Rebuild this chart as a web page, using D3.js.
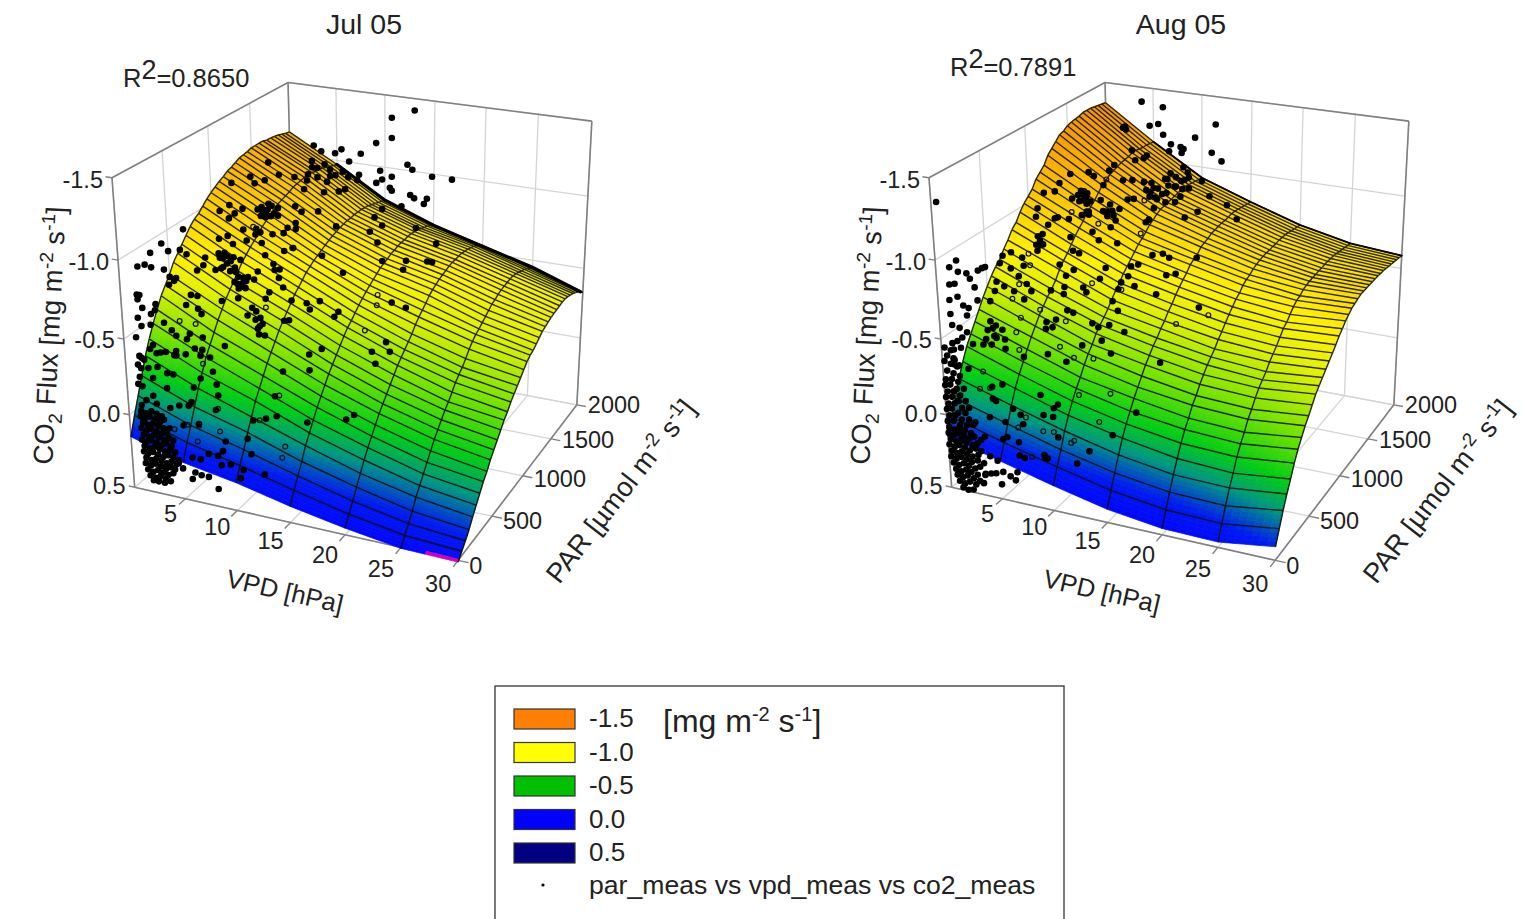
<!DOCTYPE html>
<html><head><meta charset="utf-8">
<script src="https://cdnjs.cloudflare.com/ajax/libs/d3/7.8.5/d3.min.js"></script>
<style>html,body{margin:0;padding:0;background:#fff;overflow:hidden}text{font-family:"Liberation Sans",Arial,sans-serif;fill:#222}</style>
</head><body><svg id="c" width="1522" height="919" viewBox="0 0 1522 919"></svg>
<script>
// ---- axes ----
const vpdTicks=[5,10,15,20,25,30], parTicks=[0,500,1000,1500,2000], co2Ticks=[-1.5,-1.0,-0.5,0.0,0.5];
const co2TickLabels=["-1.5","-1.0","-0.5","0.0","0.5"];
// ---- fitted surface: columns are VPD, rows are PAR ----
const vpdGrid=[0,5,10,15,20,25,30];
const parGrid=[0,50,100,150,200,250,300,350,400,450,500,550,600,650,700,750,800,850,900,950,1000,1050,1100,1150,1200,1250,1300,1350,1400,1450,1500,1550,1600,1650,1700,1750,1800,1850,1900,1950,2000];
const julSurface=[
[.15,.25,.31,.39,.455,.507,.512],[.03,.14,.22,.31,.39,.45,.47],[-.08,.05,.14,.24,.33,.40,.43],[-.19,-.05,.05,.17,.265,.345,.386],
[-.30,-.15,-.03,.09,.20,.28,.33],[-.39,-.23,-.11,.03,.137,.23,.28],[-.47,-.31,-.17,-.03,.08,.18,.23],[-.54,-.37,-.23,-.09,.03,.13,.18],
[-.61,-.43,-.29,-.14,-.02,.08,.14],[-.66,-.49,-.34,-.19,-.07,.03,.09],[-.71,-.54,-.39,-.24,-.11,-.01,.05],[-.77,-.59,-.44,-.28,-.15,-.05,.01],
[-.81,-.63,-.48,-.32,-.19,-.09,-.03],[-.85,-.67,-.52,-.36,-.23,-.12,-.07],[-.89,-.71,-.555,-.40,-.27,-.16,-.10],[-.93,-.75,-.595,-.435,-.30,-.20,-.14],
[-.96,-.78,-.62,-.46,-.33,-.23,-.17],[-.98,-.81,-.65,-.49,-.36,-.255,-.20],[-1.01,-.835,-.68,-.52,-.39,-.29,-.23],[-1.04,-.86,-.70,-.545,-.43,-.33,-.26],
[-1.065,-.89,-.72,-.57,-.46,-.36,-.29],[-1.085,-.91,-.735,-.59,-.485,-.385,-.31],[-1.105,-.93,-.75,-.61,-.51,-.40,-.32],[-1.12,-.95,-.765,-.63,-.54,-.42,-.34],
[-1.14,-.97,-.78,-.65,-.56,-.44,-.36],[-1.15,-.98,-.79,-.66,-.575,-.46,-.38],[-1.165,-.99,-.80,-.67,-.59,-.48,-.39],[-1.18,-1.0,-.81,-.685,-.60,-.49,-.40],
[-1.185,-1.015,-.815,-.69,-.61,-.505,-.41],[-1.19,-1.02,-.82,-.70,-.62,-.515,-.415],[-1.20,-1.025,-.82,-.705,-.625,-.52,-.42],[-1.20,-1.03,-.825,-.705,-.625,-.525,-.425],
[-1.20,-1.03,-.825,-.71,-.63,-.53,-.43],[-1.20,-1.03,-.825,-.71,-.63,-.53,-.43],[-1.19,-1.02,-.82,-.705,-.625,-.525,-.425],[-1.19,-1.02,-.815,-.70,-.62,-.515,-.415],
[-1.185,-1.01,-.805,-.69,-.61,-.505,-.405],[-1.18,-1.0,-.795,-.68,-.60,-.495,-.39],[-1.17,-.99,-.785,-.67,-.585,-.48,-.375],[-1.16,-.98,-.775,-.655,-.57,-.465,-.355],
[-1.155,-.97,-.765,-.64,-.55,-.45,-.33]];
const augSurface=[
[.15,.24,.33,.41,.457,.464,.41],[.04,.14,.23,.31,.36,.37,.32],[-.06,.04,.14,.22,.27,.28,.23],[-.17,-.06,.04,.125,.18,.19,.15],
[-.26,-.15,-.04,.04,.10,.12,.08],[-.34,-.22,-.11,-.03,.025,.04,.004],[-.40,-.28,-.17,-.09,-.04,-.02,-.06],[-.46,-.34,-.22,-.15,-.09,-.07,-.11],
[-.52,-.40,-.28,-.20,-.15,-.13,-.16],[-.58,-.45,-.33,-.25,-.19,-.17,-.20],[-.63,-.50,-.37,-.30,-.24,-.22,-.245],[-.68,-.54,-.42,-.34,-.28,-.26,-.29],
[-.72,-.58,-.455,-.38,-.32,-.29,-.32],[-.75,-.61,-.485,-.41,-.35,-.32,-.35],[-.80,-.65,-.52,-.45,-.38,-.36,-.38],[-.84,-.70,-.56,-.48,-.42,-.39,-.41],
[-.89,-.74,-.60,-.52,-.45,-.42,-.44],[-.92,-.77,-.63,-.55,-.485,-.455,-.47],[-.97,-.81,-.67,-.59,-.52,-.49,-.505],[-1.01,-.85,-.70,-.62,-.55,-.51,-.53],
[-1.04,-.88,-.73,-.65,-.58,-.54,-.56],[-1.07,-.91,-.76,-.675,-.60,-.57,-.58],[-1.12,-.95,-.79,-.71,-.63,-.59,-.60],[-1.15,-.97,-.81,-.725,-.65,-.60,-.61],
[-1.18,-.997,-.835,-.74,-.66,-.62,-.62],[-1.23,-1.03,-.865,-.77,-.68,-.63,-.63],[-1.26,-1.06,-.88,-.78,-.69,-.635,-.63],[-1.29,-1.08,-.90,-.79,-.70,-.64,-.63],
[-1.32,-1.10,-.915,-.805,-.705,-.64,-.63],[-1.33,-1.11,-.92,-.81,-.71,-.645,-.63],[-1.35,-1.12,-.925,-.815,-.71,-.645,-.63],[-1.36,-1.13,-.93,-.82,-.715,-.65,-.63],
[-1.365,-1.135,-.935,-.82,-.715,-.65,-.625],[-1.37,-1.14,-.94,-.825,-.72,-.65,-.625],[-1.38,-1.15,-.95,-.83,-.72,-.65,-.62],[-1.38,-1.15,-.95,-.83,-.72,-.645,-.615],
[-1.38,-1.145,-.945,-.825,-.715,-.64,-.61],[-1.375,-1.14,-.94,-.82,-.71,-.635,-.605],[-1.37,-1.14,-.935,-.815,-.705,-.63,-.60],[-1.365,-1.135,-.93,-.81,-.70,-.625,-.595],
[-1.36,-1.13,-.925,-.805,-.695,-.62,-.59]];
// ---- measurements as [VPD, CO2 flux]; PAR cannot be read from the flat picture, so each list has one estimated PAR ----
const julPar100=[[5.3,-1.21],[3.2,-1.10],[4.9,-1.08],[3.8,-1.06],[2.1,-1.03],[5.5,-1.06],[.8,-.93],[1.5,-.95],[2.1,-.94],[3.3,-.94],[3.8,-.90],[4.2,-.88],[4.4,-.90],[3.7,-.85],[.55,-.75],[.8,-.75],[.6,-.72],[1,-.67],[2.3,-.71],[2.2,-.67],[1.8,-.64],[.5,-.60],[1.7,-.57],[.8,-.55],[.2,-.47],[1.8,-.44],[.4,-.35],[.85,-.33],
[7.2,-1.06],[7,-1.01],[6.4,-.97],[6.3,-.81],[5.7,-.81],[5.2,-.74],[6.3,-.73],[6.6,-.70],[3,-.60],[3.7,-.56],[4.1,-.53],[5.1,-.52],[5.4,-.56],[6.6,-.55],[4.9,-.42],[4,-.40],[6.3,-.43],[2.5,-.40],
[.6,-.34],[.2,-.29],[.5,-.27],[.3,-.21],[.1,-.16],[.5,-.15],[1.6,-.22],[2.1,-.30],[1.5,-.41],[1.2,-.28],[2.1,-.39],[3,-.41],[3.8,-.40],[4,-.43],[3,-.27],[3.6,-.27],[2.9,-.17],[1.5,-.10],[.8,-.06],[.3,-.02],[1.8,-.05],
[16.3,-.57],[13.9,-.43],[16.3,-.47],[21.8,-.66],[22.1,-.59],[19.5,-.20],[20.2,-.24],[16,-.13],[13.2,-.13],[13.1,-.26],[11,-.07],[12.2,-.10],[10.4,.06],[10.7,.16],[8.3,.11],[7.5,-.09],[7.8,-.19],[7.7,-.26],[7.4,-.34],[6.2,-.28],[5.5,-.21],[7.2,-.43],[6.5,-.47],[5.8,-.47],[5.2,-.11],[4.9,-.08],[4,-.07],[3.1,-.04],[2.1,.05],[4.3,.06],[5.8,.03],[8,.18],[7.5,.22],[6.6,.22],[5.8,.27],[5,.27],[7.8,.28],[8.7,.26],[9.9,.28],[11.9,.28],[9.6,.34],[5.8,.38],[6.5,.38],[4.9,.42],[7.4,.45],[4,.36],[3.6,.33],[5.2,.37],
[.2,.02],[.7,.03],[1.2,.01],[1.7,.02],[2.2,.03],[.1,.06],[.5,.07],[1,.05],[1.5,.06],[2,.07],[2.4,.05],[.3,.10],[.8,.11],[1.3,.09],[1.8,.10],[2.3,.11],[2.9,.10],[.1,.14],[.6,.15],[1.1,.13],[1.6,.14],[2.1,.15],[2.6,.14],[.3,.18],[.8,.19],[1.3,.17],[1.8,.18],[2.3,.19],[2.8,.17],[3.2,.18],[.1,.22],[.5,.23],[1,.21],[1.5,.22],[2,.23],[2.5,.21],[3,.22],[.3,.26],[.8,.27],[1.3,.25],[1.8,.26],[2.3,.27],[2.8,.25],[3.3,.26],[.2,.30],[.6,.31],[1.1,.29],[1.6,.30],[2.1,.31],[2.6,.29],[3.1,.30],[3.6,.31],[.4,.34],[.9,.35],[1.4,.33],[1.9,.34],[2.4,.35],[2.9,.33],[3.4,.34],[.3,.38],[.8,.39],[1.3,.37],[1.8,.38],[2.3,.39],[2.8,.37],[3.2,.38],[.5,.42],[1,.43],[1.5,.41],[2,.42],[2.5,.43],[3,.41],[.7,.46],[1.2,.47],[1.7,.45],[2.2,.46],[2.7,.47],[1,.49],[1.5,.49],[2.1,.49]];
const julPar1000=[[5.8,-1.32],[4,-1.21],[5.4,-1.20],[6.8,-1.25],[2.1,-1.15],[4.4,-1.17],[8.3,-1.25],[9.5,-1.24],[9.2,-1.18],[10,-1.33],[10.2,-1.47],[10.9,-1.44],[12.8,-1.47],[12.2,-1.44],[11.7,-1.29],[13.1,-1.22],[13.5,-1.40],[11.1,-1.18],[8.3,-1.06],[8.9,-1.03],[5.7,-1.05],[6,-1.04],[5.4,-.99],[5.1,-.98],[6.6,-1.03],[6.6,-.98],[1.8,-1],[3.1,-.99],[.8,-.95],[2.3,-.95],[1.7,-.91],[10.5,-1.05],[12.2,-.97],[8.3,-.95],[8.3,-.91],[7.1,-.87],[7.5,-.91],[4.4,-.87],[4.8,-.85],[4.3,-.83],[3.1,-.85],[3.4,-.78],[4.9,-.78],[6,-.85],[.6,-.76],[1.5,-.79],[2,-.74],
[.6,-.63],[.9,-.63],[1.4,-.65],[.9,-.57],[.1,-.54],[2,-.65],[2.7,-.64],[2.4,-.52],[2.9,-.52],[2.3,-.47],[2.6,-.45],[3.2,-.50],[4,-.52],[5.2,-.70],[6,-.65],[6.1,-.61],[6.6,-.62],[6.5,-.56],[6.9,-.50],[4.4,-.58],[7.1,-.75],[8,-.78],[10.8,-.76],[12.8,-.67],[.6,-.33],[2.3,-.37],[3.2,-.26],[3.7,-.32],[4,-.24],[4.4,-.20],[4.3,-.14],[5.5,-.45],[5.1,-.40],[6.9,-.27],[7.4,-.28],[7.7,-.42],[9.2,-.42],[9.5,-.38],[10.5,-.45],[12.3,-.40],[11.9,-.36],[10.6,-.12],[.7,-.01],
[5,-1.02],[5.3,-1],[5.6,-1.01],[4.9,-.96],[5.4,-.96],[5.9,-.97],[4.6,-1],[6.2,-.99],[.5,-.66],[1.3,-.6],[1.7,-.62],[1.1,-.67],[.7,-.56],[1.6,-.55],[2.1,-.58],[2,-.48],[2.4,-.44],[2.8,-.48],[3.1,-.45],[2.2,-.55],[3.4,-.53],[4.1,-.3],[4.5,-.26],[4.2,-.18],[4.7,-.22],[4.9,-.14],[10,-1.37],[10.5,-1.33],[11.2,-1.36],[11.7,-1.33],[9.6,-1.28],[10.5,-1.27],[11.4,-1.25],[12.2,-1.3],[12.9,-1.33],[13.4,-1.3],[12.5,-1.2]];
const julPar2000=[[13,-1.42],[10.7,-1.35],[10.7,-1.21],[9.1,-1.16],[7.5,-1.07],[12.3,-1.04],[12.8,-1.01],[9.5,-.97],[10.7,-.94],[14.8,-.98],[16.8,-.98],[9.7,-.91],[9.1,-.88],[10.5,-.86],[10.7,-.84],[12.6,-.83],[13,-.81],[14.3,-.82],[14,-.78],[7.3,-.92],[7.1,-.88],[11.7,-.74],[9.7,-.70],[8.9,-.63],[9.7,-.58],[8.4,-.52],[13.2,-.60],[15.3,-.51],[9.2,-.45],[12.2,-.35],[9.7,-.32],[14.4,-.37],[14.9,-.37],[11.9,-.28],[10.7,-.02],[12.2,0],[10.1,.29],[10.5,.36]];
const julHollow100=[[6.5,-.38],[4.7,.05],[3.4,.10],[5.8,.04],[7.8,.05],[5.6,.15],[7.7,-.10],[11.6,-.08],[13.5,-.27],[13.9,.06],[13.6,.14],[4.5,-.63],[6,-.63]];
const julHollow1000=[[7.9,-.78],[5.1,-.34],[4.1,-.88]];
const julHollow2000=[[9.2,-.06],[9.1,.02],[7.8,.23]];

const augPar0=[[.5,-1.36],[.3,-.45],[.9,-.44],[.5,-.40],[1.1,-.39],[.2,-.36],[.8,-.35],[1.4,-.34],[.4,-.30],[1,-.29],[1.6,-.28],[.2,-.24],[.8,-.25],[1.4,-.24],[.1,-.20],[.6,-.21],[1.2,-.19],[1.9,-.20],[.3,-.16],[.9,-.17],[1.5,-.15],[.1,-.12],[.7,-.13],[1.3,-.11],[2,-.12],[.3,-.08],[.9,-.09],[1.6,-.07],[2.3,-.08],[.1,-.04],[.6,-.05],[1.2,-.03],[1.9,-.04],[.3,0],[.9,-.01],[1.5,.01],[2.2,0],[2.8,.01],[.1,.04],[.7,.03],[1.3,.05],[2,.04],[2.6,.03],
[.2,.08],[.7,.09],[1.2,.07],[1.7,.08],[2.3,.09],[.1,.12],[.6,.13],[1.1,.11],[1.6,.12],[2.1,.13],[2.6,.11],[.3,.16],[.8,.17],[1.3,.15],[1.8,.16],[2.4,.17],[2.9,.15],[.1,.20],[.6,.21],[1.1,.19],[1.6,.20],[2.1,.21],[2.7,.19],[3.2,.20],[.3,.24],[.8,.25],[1.3,.23],[1.8,.24],[2.3,.25],[2.9,.23],[.2,.28],[.7,.29],[1.2,.27],[1.7,.28],[2.2,.29],[2.8,.27],[3.4,.28],[.4,.32],[.9,.33],[1.4,.31],[1.9,.32],[2.5,.33],[3,.31],[.6,.36],[1.1,.37],[1.6,.35],[2.1,.36],[2.7,.37],[3.5,.35],[.7,.40],[1.2,.41],[1.7,.39],[2.3,.40],[2.9,.41],[.9,.44],[1.4,.45],[1.9,.43],[2.5,.44],[1.2,.48],[1.7,.49],[2.2,.48]];
const augPar100=[[7.2,-1.06],[7.3,-1.01],[6.2,-1.08],[5.4,-1.05],[5.1,-1],[6.1,-.98],[6.8,-.94],[7.5,-.90],[7.9,-.86],[6.9,-.43],[5.2,-.52],[5.2,-.46],[4.4,-.52],[5,-.58],[4.1,-.58],[4,-.75],[4.7,-.88],[4.5,-.82],[5.4,-.86],[6.3,-.84],[7.2,-.80],[3.9,-.62],[3.6,-.56],[4.4,-.6],[4.2,-.53],[3.4,-.5],[3.1,-.46],[3.9,-.47],
[1,-.97],[.3,-.92],[1.1,-.90],[1.9,-.90],[.2,-.81],[.7,-.82],[2.2,-.87],[3,-.93],[3.7,-.96],[3.4,-.95],[.9,-.74],[.1,-.71],[2.6,-.82],[2.8,-.74],[1.4,-.69],[1.9,-.68],[1.7,-.63],[.1,-.62],[.2,-.55],[.9,-.54],[1.1,-.48],[.6,-.45],[.2,-.39],[.1,-.43],[1.6,-.52],[2.1,-.45],[.9,-.41],[.2,-.32],[.6,-.29],[.1,-.29],[1.5,-.28],
[8.3,-.20],[5.6,-.07],[6.3,-.04],[8.5,-.07],[9.5,-.13],[9.9,-.16],[9.4,-.07],[4.8,.03],[6.5,.02],[4.9,.13],[4.5,.15],[6,.15],[2.7,.16],[2.3,.19],[3.7,-.11],[4.7,-.22],[3.7,-.19],[4,-.10],[9.8,.06],[12.7,.11],[11.5,.21],[14.9,-.03],[17.1,-.21],[6,.24],[6.5,.25],[8.4,.20],[8.5,.22],[8.7,.22],[4.3,.38],[4.1,.47],[3.6,.40],[3.1,.41],[2.5,.43],[2.3,.49],[5,.40],[5.5,.42],[5.7,.36],[3.3,.02],[3.1,.29],[3.8,.31]];
const augPar1000=[[15.1,-1.38],[15.5,-1.35],[16.8,-1.31],[17.5,-1.22],[19.1,-1.18],[20,-1.10],[15.2,-1.06],[16.4,-1.11],[14.4,-1.25],[13.7,-1.25],[13.4,-1.29],[12.7,-1.22],[13.1,-1.19],[12.3,-1.22],[12,-1.19],[14.3,-1.15],[13.4,-1.14],[12.3,-1.09],[10.4,-1.13],[9.8,-1.12],[8.1,-1.29],[8.6,-1.33],[10.3,-1.44],[11.7,-1.42],[11.4,-1.40],[10.6,-1.38],[9.4,-1.24],[10.3,-1.25],[11.4,-1.25],[6.6,-1.24],[6.1,-1.26],[5.5,-1.11],[5.8,-1.09],[5,-1.10],[4.4,-1.07],[4.3,-1.23],[2.7,-1.10],[3.2,-1.16],[1.6,-1.08],[.9,-.97],[.7,-.91],[2.6,-.92],[1.9,-.87],[4,-.93],[2.9,-.93],[5.3,-.97],[5.8,-1],[6,-.98],[7.5,-1.19],[7.2,-1.09],[8.1,-1.07],[7.8,-1.02],[8.4,-1],[9,-1.05],[11.5,-.99],[11.8,-1.01],[8.1,-.92],[6.3,-.87],[6.9,-.82],[8.7,-.82],[4.3,-.72],[4.9,-.71],[7.5,-.64],[4.1,-.81],[1.3,-.80],[1,-.75],[.7,-.68],[2.9,-.61],[4.3,-.59],[6.9,-.56],[3.5,-.54],[10,-.68],[10.7,-.70],[9.7,-.61],[9,-.56],[8.7,-.51],[8.1,-.42],[10.3,-.55],[8.6,-.36],[12.4,-.52],[12.1,-.78],[13.1,-.80],[13.7,-.78],[16.3,-.81],[13.4,-.66],[14.3,-.68],[16.5,-.48],[1.9,-.42],[3.3,-.46],[5.2,-.48],[5.5,-.45],[3.2,-.41],[3.5,-.30],[4.1,-.29],[6,-.24],[6.6,-.22],[7.7,-.25],[9.2,-.22],[6.9,-.13],[7.8,-.05],[4.9,-.07],[12.7,-.05],[1.3,.04],[3.2,.07],[1.3,-.19],[2.3,-.22],[1.9,-.16],[1.2,-.14],
[5.3,-1.13],[5.6,-1.13],[5.9,-1.12],[5.4,-1.07],[5.8,-1.05],[5.1,-1.06],[6.2,-1.07],[6,-1],[7.4,-1.02],[7.8,-.99],[8.3,-1.03],[8.6,-.97],[13.9,-1.33],[14.4,-1.31],[14.9,-1.29],[15.2,-1.3],[13.6,-1.29],[14.3,-1.25],[15,-1.24],[15.6,-1.25],[13.5,-1.2],[14.8,-1.19],[15.6,-1.32],[11.6,-1.2],[11.9,-1.16],[12.4,-1.16],[12.1,-1.25],[12.6,-1.15],[.8,-.78],[1,-.72],[1.3,-.73],[.6,-.72]];
const augPar2000=[[3.8,-1.40],[6,-1.38],[4.6,-1.24],[5.5,-1.26],[6,-1.19],[11.4,-1.31],[9.3,-1.20],[11,-1.11],[12,-1.06],[6.8,-1.13],[7.8,-1.12],[8.1,-1.11],[7.9,-1.08],[6.6,-1.08],[1.8,-1.20],[2.1,-1.19],[2,-1.21]];
const augHollow100=[[7.8,-1.09],[7.9,-1.02],[6.8,-.89],[6.1,-.79],[6.8,-.68],[6.3,-.58],[6.5,-.47],[11.9,-.25],[14.8,-.30],[13.7,-.10],[6.8,-.03],[6,.05],[8.4,.04],[9.4,.03],[11.3,.06],[11,.08],[7.2,.23],[2.5,-.16],[2.9,-.28],[3.5,-.18]];
const augHollow1000=[[.7,-.27],[7.8,-1.23],[4.3,-.98],[6.9,-.93],[11,-.91],[6.1,-.52],[9,-.51],[3.3,-.22],[2.6,-.03],[4,.03],[6,.01],[14.3,-.34],[17.4,-.44],[11.4,-1.13]];
// ---- legend ----
const legendLabels=["-1.5","-1.0","-0.5","0.0","0.5"];
const legendColors=["#ff8000","#ffff00","#00c000","#0000ff","#000080"];
const seriesLabel="par_meas vs vpd_meas vs co2_meas";

const svg=d3.select("#c");
// screen anchors of the plot box (u,v,w -> x,y, weight): the box is a perspective drawing; two corners are hidden and only loosely known
const boxCorners=[[0,0,0,135,487,1],[1,0,0,458,561,1],[1,1,0,577,404,1],[0,1,0,291,360,.25],[0,0,1,112,178,1],[1,0,1,462,221,.25],[1,1,1,592,122,1],[0,1,1,288,82,1]];
function solve(A,b){const n=b.length;const M=A.map((r,i)=>[...r,b[i]]);for(let i=0;i<n;i++){let p=i;for(let k=i+1;k<n;k++)if(Math.abs(M[k][i])>Math.abs(M[p][i]))p=k;[M[i],M[p]]=[M[p],M[i]];for(let k=i+1;k<n;k++){const f=M[k][i]/M[i][i];for(let j=i;j<=n;j++)M[k][j]-=f*M[i][j];}}const x=Array(n).fill(0);for(let i=n-1;i>=0;i--){let s=M[i][n];for(let j=i+1;j<n;j++)s-=M[i][j]*x[j];x[i]=s/M[i][i];}return x;}
const cam=(()=>{const rows=[],rhs=[];boxCorners.forEach(([u,v,w,x,y,k])=>{rows.push([1,u,v,w,0,0,0,0,-x*u,-x*v,-x*w].map(c=>c*k));rhs.push(x*k);rows.push([0,0,0,0,1,u,v,w,-y*u,-y*v,-y*w].map(c=>c*k));rhs.push(y*k);});
const n=11,AtA=d3.range(n).map(i=>d3.range(n).map(j=>d3.sum(rows,r=>r[i]*r[j]))),Atb=d3.range(n).map(i=>d3.sum(rows,(r,k)=>r[i]*rhs[k]));return solve(AtA,Atb);})();
const uS=d3.scaleLinear().domain([0,30]).range([0,1]),vS=d3.scaleLinear().domain([0,2000]).range([0,1]),wS=d3.scaleLinear().domain([0.5,-1.5]).range([0,1]);
function proj(vpd,par,co2){const u=uS(vpd),v=vS(par),w=wS(co2),d=1+cam[8]*u+cam[9]*v+cam[10]*w;return[(cam[0]+cam[1]*u+cam[2]*v+cam[3]*w)/d,(cam[4]+cam[5]*u+cam[6]*v+cam[7]*w)/d];}
// surface colours follow height, with a slow drift along VPD as in the source rendering
const colour=d3.scaleLinear().domain([-1.6,-1.35,-1.15,-.8,-.65,-.4,-.2,-.05,.12,.3]).range(["#e06e00","#f59600","#fab400","#fff000","#e1f000","#6ee100","#00cd14","#009682","#0019f0","#0000ff"]).clamp(true);
const surfaceColour=(z,vpd)=>z>0.503?"#d000c0":colour(z-0.01*vpd);
const line=d3.line();
const GRID="#d4d4d4",FRAME="#808080";

function panel(dx,title,rLabel,rx,ry,surface,groups,hollow,ridgeWidth){
 const g=svg.append("g").attr("transform",`translate(${dx},0)`);
 const seg=(a,b,col,w)=>g.append("path").attr("d",line([proj(...a),proj(...b)])).attr("fill","none").attr("stroke",col).attr("stroke-width",w);
 // walls and floor
 co2Ticks.forEach(z=>{seg([0,0,z],[0,2000,z],GRID,1.3);seg([0,2000,z],[30,2000,z],GRID,1.3);});
 vpdTicks.forEach(v=>{seg([v,2000,.5],[v,2000,-1.5],GRID,1.3);seg([v,0,.5],[v,2000,.5],GRID,1.3);});
 parTicks.forEach(p=>{seg([0,p,.5],[0,p,-1.5],GRID,1.3);seg([0,p,.5],[30,p,.5],GRID,1.3);});
 [[[0,0,.5],[0,0,-1.5]],[[0,0,-1.5],[0,2000,-1.5]],[[0,2000,-1.5],[30,2000,-1.5]],[[30,2000,-1.5],[30,2000,.5]],[[30,2000,.5],[30,0,.5]],[[30,0,.5],[0,0,.5]],[[0,2000,-1.5],[0,2000,.5]]].forEach(s=>seg(s[0],s[1],FRAME,1.6));
 co2Ticks.forEach(z=>seg([0,0,z],[-.6,0,z],FRAME,1.4));
 vpdTicks.forEach(v=>seg([v,0,.5],[v,-70,.5],FRAME,1.4));
 parTicks.forEach(p=>seg([30,p,.5],[30.9,p,.5],FRAME,1.4));
 // surface, painted back to front
 const nV=7,nP=4,sf=g.append("g"),mesh="#101000";
 for(let r=parGrid.length-2;r>=0;r--){
  for(let c=0;c<vpdGrid.length-1;c++)for(let a=nP-1;a>=0;a--)for(let b=0;b<nV;b++){
   const lerp=(s,t)=>{const z=(1-t)*((1-s)*surface[r][c]+s*surface[r][c+1])+t*((1-s)*surface[r+1][c]+s*surface[r+1][c+1]);return[vpdGrid[c]+s*(vpdGrid[c+1]-vpdGrid[c]),parGrid[r]+t*(parGrid[r+1]-parGrid[r]),z];};
   const s0=b/nV,s1=(b+1)/nV,t0=a/nP,t1=(a+1)/nP,mid=lerp((s0+s1)/2,(t0+t1)/2),col=surfaceColour(mid[2],mid[0]);
   sf.append("path").attr("d",line([lerp(s0,t0),lerp(s1,t0),lerp(s1,t1),lerp(s0,t1)].map(q=>proj(...q)))+"Z").attr("fill",col).attr("stroke",col).attr("stroke-width",.7);
  }
  sf.append("path").attr("d",line(vpdGrid.map((v,c)=>proj(v,parGrid[r+1],surface[r+1][c])))).attr("fill","none").attr("stroke",mesh).attr("stroke-width",1.4).attr("stroke-opacity",.88);
  vpdGrid.forEach((v,c)=>sf.append("path").attr("d",line([proj(v,parGrid[r],surface[r][c]),proj(v,parGrid[r+1],surface[r+1][c])])).attr("fill","none").attr("stroke",mesh).attr("stroke-width",1.4).attr("stroke-opacity",.88));
 }
 // the rows pile up along the crest, which reads as a heavy dark edge
 const crest=vpdGrid.map((v,c)=>d3.least(parGrid.map((p,r)=>proj(v,p,surface[r][c])),q=>q[1]));
 sf.append("path").attr("d",line(crest.slice(1))).attr("fill","none").attr("stroke","#000").attr("stroke-width",ridgeWidth).attr("stroke-linecap","round");
 // measurements
 groups.forEach(([par,list])=>list.forEach(d=>{const p=proj(d[0],par,d[1]);g.append("circle").attr("cx",p[0]).attr("cy",p[1]).attr("r",3.3).attr("fill","#000");}));
 hollow.forEach(([par,list])=>list.forEach(d=>{const p=proj(d[0],par,d[1]);g.append("circle").attr("cx",p[0]).attr("cy",p[1]).attr("r",2.4).attr("fill","none").attr("stroke","#111").attr("stroke-width",1.2);}));
 // tick labels
 co2Ticks.forEach((z,i)=>{const p=proj(0,0,z);g.append("text").attr("x",p[0]-9).attr("y",p[1]+10.5-(z+1.5)*2).attr("text-anchor","end").attr("font-size",23.5).text(co2TickLabels[i]);});
 vpdTicks.forEach(v=>{const p=proj(v,0,.5);g.append("text").attr("x",p[0]-20+Math.max(0,10-v)).attr("y",p[1]+28+(v-20)*.35).attr("text-anchor","middle").attr("font-size",23.5).text(v);});
 parTicks.forEach(t=>{const p=proj(30,t,.5);g.append("text").attr("x",p[0]+11).attr("y",p[1]+11+(1000-t)*.003).attr("font-size",23.5).text(t);});
 // titles
 const rich=(sel,parts)=>parts.forEach(([s,k])=>{const t=sel.append("tspan").text(s);if(k==="sup")t.attr("dy",-10).attr("font-size",19);else if(k==="sub")t.attr("dy",7).attr("font-size",19);else if(k==="upback")t.attr("dy",-7);else if(k==="back")t.attr("dy",10);});
 g.append("text").attr("x",364).attr("y",34).attr("text-anchor","middle").attr("font-size",28.5).text(title);
 const r=g.append("text").attr("x",rx).attr("y",ry).attr("font-size",25.5);
 r.append("tspan").text("R");r.append("tspan").attr("dy",-8).attr("font-size",27).text("2");r.append("tspan").attr("dy",8).text("="+rLabel);
 rich(g.append("text").attr("transform","translate(59,336) rotate(-87)").attr("text-anchor","middle").attr("font-size",27.5),[["CO"],["2","sub"],[" Flux [mg m","upback"],["-2","sup"],[" s","back"],["-1","sup"],["]","back"]]);
 g.append("text").attr("transform","translate(283,600) rotate(13)").attr("text-anchor","middle").attr("font-size",25.5).text("VPD [hPa]");
 rich(g.append("text").attr("transform","translate(628,497) rotate(-52)").attr("text-anchor","middle").attr("font-size",27.5),[["PAR  [\u00b5mol m"],["-2","sup"],[" s","back"],["-1","sup"],["]","back"]]);
}
panel(0,"Jul 05","0.8650",123,87,julSurface,[[100,julPar100],[1000,julPar1000],[2000,julPar2000]],[[100,julHollow100],[1000,julHollow1000],[2000,julHollow2000]],3.2);
panel(817,"Aug 05","0.7891",133,76,augSurface,[[0,augPar0],[100,augPar100],[1000,augPar1000],[2000,augPar2000]],[[100,augHollow100],[1000,augHollow1000]],1.8);
// legend
const lg=svg.append("g");
lg.append("rect").attr("x",495).attr("y",686).attr("width",569).attr("height",320).attr("fill","#fff").attr("stroke","#333").attr("stroke-width",1.3);
const ly=d3.scalePoint().domain(legendLabels).range([719,853]);
legendLabels.forEach((l,i)=>{lg.append("rect").attr("x",514).attr("y",ly(l)-10).attr("width",61).attr("height",20).attr("fill",legendColors[i]).attr("stroke","#333").attr("stroke-width",1.2);
 lg.append("text").attr("x",589).attr("y",ly(l)+8).attr("font-size",26).text(l);});
const un=lg.append("text").attr("x",663).attr("y",732).attr("font-size",32);
un.append("tspan").text("[mg m");un.append("tspan").attr("dy",-11).attr("font-size",20).text("-2");un.append("tspan").attr("dy",11).text(" s");un.append("tspan").attr("dy",-11).attr("font-size",20).text("-1");un.append("tspan").attr("dy",11).text("]");
lg.append("circle").attr("cx",543).attr("cy",885).attr("r",1.6).attr("fill","#000");
lg.append("text").attr("x",589).attr("y",894).attr("font-size",26.6).text(seriesLabel);
</script></body></html>
